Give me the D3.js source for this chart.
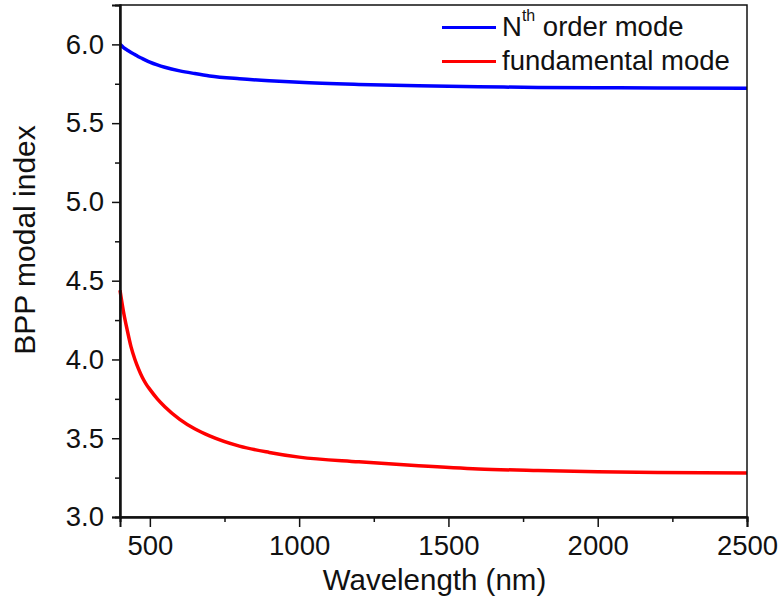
<!DOCTYPE html>
<html>
<head>
<meta charset="utf-8">
<script src="https://cdn.jsdelivr.net/npm/d3@7"></script>
<style>
  body { margin: 0; background: #fff; }
  text { font-family: "Liberation Sans", Arial, sans-serif; fill: #111; }
</style>
</head>
<body>
<script>
// data
var wavelengths = [400, 412, 425, 437, 450, 462, 475, 487, 500, 525, 550, 600, 650, 700, 800, 900, 1000, 1200, 1400, 1600, 1800, 2000, 2200, 2500];
var nthMode =     [6.00, 5.98, 5.963, 5.948, 5.935, 5.922, 5.91, 5.899, 5.888, 5.87, 5.855, 5.832, 5.815, 5.80, 5.782, 5.769, 5.759, 5.746, 5.737, 5.731, 5.727, 5.725, 5.723, 5.722];
var fundMode =    [4.44, 4.30, 4.18, 4.08, 4.00, 3.94, 3.885, 3.845, 3.81, 3.75, 3.70, 3.62, 3.56, 3.515, 3.45, 3.41, 3.38, 3.35, 3.325, 3.305, 3.295, 3.288, 3.283, 3.28];
var xTicks = [500, 1000, 1500, 2000, 2500];
var xMinor = [750, 1250, 1750, 2250];
var yTicks = [3.0, 3.5, 4.0, 4.5, 5.0, 5.5, 6.0];
var yMinor = [3.25, 3.75, 4.25, 4.75, 5.25, 5.75];
var seriesNames = ["order mode", "fundamental mode"];
var seriesColors = ["#0000ff", "#ff0000"];

var margin = {top: 5, right: 35, bottom: 88, left: 120},
    width = 782 - margin.left - margin.right,
    height = 605 - margin.top - margin.bottom;

var svg = d3.select("body").append("svg")
    .attr("width", 782)
    .attr("height", 605);

var g = svg.append("g")
    .attr("transform", "translate(" + margin.left + "," + margin.top + ")");

var x = d3.scaleLinear().domain([400, 2500]).range([0, width]);
var y = d3.scaleLinear().domain([3.0, 6.25]).range([height, 0]);

// lines
var line = d3.line()
    .x(function(d) { return x(d[0]); })
    .y(function(d) { return y(d[1]); })
    .curve(d3.curveMonotoneX);

[nthMode, fundMode].forEach(function(vals, i) {
  g.append("path")
    .datum(d3.zip(wavelengths, vals))
    .attr("fill", "none")
    .attr("stroke", seriesColors[i])
    .attr("stroke-width", 3.5)
    .attr("d", line);
});

// frame
g.append("rect")
  .attr("width", width).attr("height", height)
  .attr("fill", "none").attr("stroke", "#111").attr("stroke-width", 1.5);

// x axis
g.append("g")
  .attr("transform", "translate(0," + height + ")")
  .call(d3.axisBottom(x).tickValues(xTicks).tickSize(10).tickPadding(8).tickFormat(d3.format("d")));
g.append("g")
  .attr("transform", "translate(0," + height + ")")
  .call(d3.axisBottom(x).tickValues(xMinor).tickSize(5).tickFormat(""));

// y axis
g.append("g")
  .call(d3.axisLeft(y).tickValues(yTicks).tickSize(8).tickPadding(8).tickFormat(d3.format(".1f")));
g.append("g")
  .call(d3.axisLeft(y).tickValues(yMinor).tickSize(5).tickFormat(""));

g.selectAll(".domain").attr("stroke", "#111").attr("stroke-width", 2);
g.selectAll(".tick line").attr("stroke", "#111").attr("stroke-width", 1.5);
g.selectAll(".tick text").style("font-size", "27.5px").attr("fill", "#111");

// axis titles
svg.append("text")
  .attr("x", margin.left + width / 2 + 1)
  .attr("y", 590)
  .attr("text-anchor", "middle")
  .style("font-size", "29.5px")
  .text("Wavelength (nm)");

svg.append("text")
  .attr("transform", "translate(35,240) rotate(-90)")
  .attr("text-anchor", "middle")
  .style("font-size", "30px")
  .text("BPP modal index");

// legend
var leg = svg.append("g");
leg.append("line").attr("x1", 442).attr("x2", 496).attr("y1", 27.5).attr("y2", 27.5)
  .attr("stroke", seriesColors[0]).attr("stroke-width", 3);
leg.append("line").attr("x1", 442).attr("x2", 496).attr("y1", 61.5).attr("y2", 61.5)
  .attr("stroke", seriesColors[1]).attr("stroke-width", 3);

var t1 = leg.append("text").attr("x", 502).attr("y", 36).style("font-size", "27.5px");
t1.append("tspan").text("N");
t1.append("tspan").attr("dy", -15).style("font-size", "16px").text("th");
t1.append("tspan").attr("dy", 15).text(" " + seriesNames[0]);

leg.append("text").attr("x", 502).attr("y", 70).style("font-size", "27.5px").text(seriesNames[1]);
</script>
</body>
</html>
